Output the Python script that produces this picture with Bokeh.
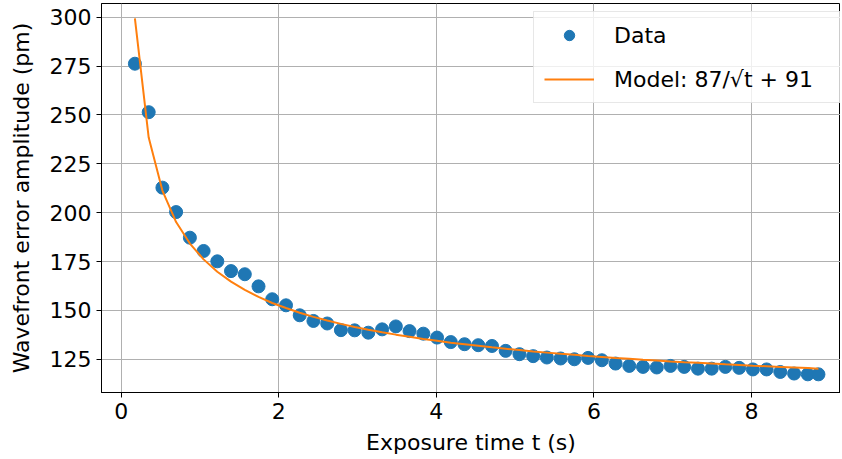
from bokeh.plotting import figure
from bokeh.models import Range1d, FixedTicker, Legend, LegendItem
from bokeh.embed import file_html
from bokeh.resources import INLINE

# Exposure times (s)
t_data = [0.174, 0.349, 0.523, 0.697, 0.872, 1.046, 1.220, 1.394, 1.569, 1.743,
          1.917, 2.092, 2.266, 2.440, 2.615, 2.789, 2.963, 3.137, 3.312, 3.486,
          3.660, 3.835, 4.009, 4.183, 4.358, 4.532, 4.706, 4.880, 5.055, 5.229,
          5.403, 5.578, 5.752, 5.926, 6.101, 6.275, 6.449, 6.623, 6.798, 6.972,
          7.146, 7.321, 7.495, 7.669, 7.844, 8.018, 8.192, 8.366, 8.541, 8.715,
          8.850]
# Measured wavefront error amplitude (pm)
amp_data = [276.2, 251.4, 212.8, 200.3, 187.2, 180.4, 175.1, 170.1, 168.5, 162.3,
            155.7, 152.6, 147.5, 144.6, 143.3, 139.9, 139.8, 138.6, 140.3, 141.8,
            139.4, 138.1, 136.1, 133.8, 132.7, 132.2, 131.8, 129.3, 127.6, 126.6,
            125.9, 125.4, 125.0, 125.7, 124.5, 122.8, 121.6, 121.1, 120.8, 121.6,
            121.1, 120.2, 120.2, 121.1, 120.6, 119.8, 119.8, 118.5, 117.7, 117.3,
            117.3]
# Model 87/sqrt(t) + 91 evaluated at the exposure times
amp_model = [299.4, 238.4, 211.3, 195.2, 184.2, 176.1, 169.8, 164.7, 160.5, 156.9,
             153.8, 151.2, 148.8, 146.7, 144.8, 143.1, 141.5, 140.1, 138.8, 137.6,
             136.5, 135.4, 134.5, 133.5, 132.7, 131.9, 131.1, 130.4, 129.7, 129.0,
             128.4, 127.8, 127.3, 126.7, 126.2, 125.7, 125.3, 124.8, 124.4, 123.9,
             123.5, 123.2, 122.8, 122.4, 122.1, 121.7, 121.4, 121.1, 120.8, 120.5,
             120.2]

x_ticks = [0, 2, 4, 6, 8]
y_ticks = [125, 150, 175, 200, 225, 250, 275, 300]

FONT = "DejaVu Sans"
FS = "22px"

p = figure(width=840, height=457, output_backend="svg", toolbar_location=None,
           x_range=Range1d(-0.25, 9.13), y_range=Range1d(108, 307),
           min_border_left=101, min_border_right=0, min_border_top=3, min_border_bottom=65)

p.background_fill_color = "white"
p.border_fill_color = "white"
p.outline_line_color = "black"
p.outline_line_width = 1

r_data = p.scatter(t_data, amp_data, size=13, color="#1f77b4", line_color="#1f77b4")
r_model = p.line(t_data, amp_model, line_color="#ff7f0e", line_width=2)

for ax in (p.xaxis[0], p.yaxis[0]):
    ax.axis_line_color = "black"
    ax.major_tick_line_color = "black"
    ax.major_tick_out = 5
    ax.major_tick_in = 0
    ax.minor_tick_line_color = None
    ax.major_label_text_font = FONT
    ax.major_label_text_font_size = FS
    ax.major_label_text_color = "black"
    ax.axis_label_text_font = FONT
    ax.axis_label_text_font_size = FS
    ax.axis_label_text_font_style = "normal"
    ax.axis_label_text_color = "black"
    ax.major_label_standoff = 5

p.xaxis[0].ticker = FixedTicker(ticks=x_ticks)
p.yaxis[0].ticker = FixedTicker(ticks=y_ticks)
p.xaxis[0].axis_label = "Exposure time t (s)"
p.yaxis[0].axis_label = "Wavefront error amplitude (pm)"
p.xaxis[0].axis_label_standoff = 8
p.yaxis[0].axis_label_standoff = 13

p.xgrid.grid_line_color = "#b0b0b0"
p.ygrid.grid_line_color = "#b0b0b0"
p.xgrid.grid_line_width = 1
p.ygrid.grid_line_width = 1

legend = Legend(items=[LegendItem(label="Data", renderers=[r_data]),
                       LegendItem(label="Model: 87/\u221at + 91", renderers=[r_model])],
                location=(432, 289))
legend.label_text_font = FONT
legend.label_text_font_size = FS
legend.label_text_color = "black"
legend.glyph_width = 50
legend.glyph_height = 26
legend.label_height = 26
legend.label_width = 216
legend.label_standoff = 20
legend.spacing = 18
legend.padding = 10
legend.margin = 0
legend.border_line_color = "#d0d0d0"
legend.border_line_width = 1
legend.background_fill_color = "white"
legend.background_fill_alpha = 0.8
p.add_layout(legend)

open("out.html", "w").write(file_html(p, INLINE))
